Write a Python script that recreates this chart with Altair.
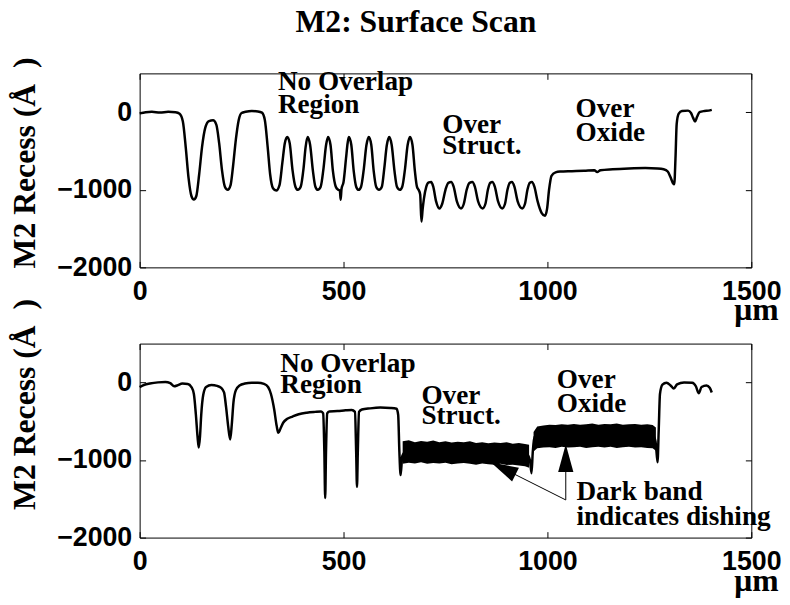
import math
import altair as alt
import pandas as pd

# ---------------- data ----------------
X_TICKS = [0, 500, 1000, 1500]
Y_TICKS = [-2000, -1000, 0]

top_x = [0, 15, 30, 50, 70, 88, 98, 106, 113, 120, 127, 133, 139, 146, 153, 161, 170, 180, 188, 195,
         202, 209, 216, 223, 229, 236, 243, 250, 260, 275, 290, 300, 307, 314, 320, 327, 335, 343, 350, 356,
         362, 368, 375, 382, 388, 395, 402, 407, 412, 418, 425, 431, 437, 444, 451, 457, 462, 468, 474, 481,
         487, 491, 493, 495, 500, 506, 510, 513, 519, 525, 531, 537, 543, 550, 556, 562, 568, 574, 580, 587,
         594, 600, 606, 612, 618, 625, 631, 638, 644, 651, 657, 663, 669, 675, 680, 684, 688, 691, 694, 697,
         703, 709, 715, 720, 727, 735, 742, 750, 757, 764, 770, 778, 788, 795, 802, 809, 816, 822, 830, 841,
         848, 854, 860, 865, 871, 879, 889, 896, 902, 908, 913, 919, 927, 938, 945, 951, 957, 962, 968, 976,
         986, 994, 999, 1004, 1010, 1020, 1031, 1060, 1090, 1115, 1122, 1130, 1160, 1200, 1240, 1270, 1285, 1295, 1302, 1308,
         1311, 1314, 1317, 1322, 1330, 1345, 1352, 1357, 1362, 1367, 1373, 1385, 1395, 1403]
top_y = [-15, 0, 5, -5, 5, 0, -20, -120, -450, -850, -1080, -1125, -1080, -800, -450, -200, -115, -105, -160, -400,
         -750, -960, -1000, -940, -700, -350, -100, -10, 5, 15, 10, -5, -100, -450, -800, -980, -1010, -940, -650, -400,
         -320, -400, -750, -960, -1000, -960, -720, -450, -320, -420, -760, -960, -1000, -960, -720, -430, -320, -420, -760, -960,
         -1000, -1010, -1130, -990, -900, -600, -400, -320, -420, -760, -960, -1000, -960, -720, -430, -320, -420, -760, -960, -1000,
         -960, -720, -430, -320, -420, -760, -960, -1000, -960, -720, -430, -320, -420, -760, -960, -1000, -1060, -1410, -1250, -1120,
         -960, -905, -900, -960, -1150, -1240, -1180, -1000, -910, -900, -960, -1150, -1240, -1180, -1000, -910, -900, -960, -1150, -1240,
         -1180, -1000, -910, -900, -960, -1150, -1240, -1180, -1000, -910, -900, -960, -1150, -1240, -1180, -1000, -910, -900, -960, -1150,
         -1300, -1335, -1250, -1000, -820, -775, -765, -760, -755, -748, -772, -748, -735, -725, -720, -725, -735, -765, -840, -915,
         -930, -600, -150, -20, 15, 20, -10, -70, -120, -60, 0, 15, 20, 30]

bot_x = [0, 12, 25, 45, 63, 75, 85, 92, 105, 118, 127, 133, 138, 142, 145, 148, 151, 156, 163, 176,
         190, 200, 207, 212, 217, 222, 226, 230, 236, 245, 258, 275, 290, 305, 315, 322, 330, 336, 340, 345,
         352, 362, 375, 390, 410, 430, 445, 450, 453, 455, 457, 460, 465, 485, 505, 520, 528, 531, 533, 535,
         538, 545, 565, 590, 615, 630, 634, 637, 640, 644, 650, 700, 800, 900, 950, 957, 961, 964, 968, 1000,
         1100, 1200, 1262, 1266, 1270, 1273, 1276, 1282, 1292, 1302, 1310, 1318, 1335, 1355, 1364, 1371, 1378, 1390, 1398, 1403]
bot_y = [-60, -30, -15, 0, 5, -10, -50, -40, -15, -20, -60, -150, -420, -700, -840, -700, -420, -160, -60, -35,
         -45, -70, -130, -320, -560, -735, -540, -260, -100, -40, -15, -5, -5, -20, -60, -150, -350, -560, -650, -600,
         -520, -470, -440, -410, -390, -380, -375, -400, -900, -1490, -900, -400, -375, -370, -360, -355, -380, -900, -1345, -900,
         -380, -350, -335, -325, -330, -340, -420, -900, -1195, -950, -905, -905, -910, -920, -930, -1000, -1170, -900, -700, -690,
         -685, -690, -705, -800, -1030, -600, -150, -30, -5, -40, -80, -25, 0, -5, -50, -140, -60, -40, -70, -130]

# envelopes of the dark (dishing) bands in the lower scan
band1_x = [645, 660, 675, 690, 705, 720, 735, 750, 765, 780, 795, 810, 825, 840, 855, 870, 885, 900, 915, 930, 945, 955]
band1_top = [-760, -745, -770, -755, -765, -750, -770, -760, -775, -765, -770, -760, -780, -770, -785, -775, -780, -770, -790, -780, -795, -805]
band1_bot = [-1050, -1035, -1045, -1030, -1050, -1040, -1045, -1035, -1055, -1045, -1040, -1050, -1060, -1045, -1055, -1060, -1050, -1065, -1060, -1070, -1080, -1100]
band2_x = [966, 975, 990, 1005, 1020, 1035, 1050, 1065, 1080, 1095, 1110, 1125, 1140, 1155, 1170, 1185, 1200, 1215, 1230, 1245, 1258, 1266]
band2_top = [-640, -570, -555, -545, -550, -540, -545, -535, -545, -540, -530, -545, -535, -540, -530, -545, -540, -535, -545, -540, -550, -580]
band2_bot = [-890, -850, -840, -835, -845, -830, -840, -835, -830, -845, -835, -830, -840, -830, -845, -835, -830, -840, -835, -845, -850, -880]

top_note_text = ["No Overlap", "Region", "Over", "Struct.", "Over", "Oxide"]
top_note_x = [339, 339, 742, 742, 1069, 1069]
top_note_y = [287, -16, -270, -536, -67, -376]

bot_note_text = ["No Overlap", "Region", "Over", "Struct.", "Over", "Oxide", "Dark band", "indicates dishing"]
bot_note_x = [345, 345, 691, 691, 1023, 1023, 1071, 1071]
bot_note_y = [130, -143, -278, -536, -67, -376, -1515, -1832]

arrow_from_x = [1045, 1045]
arrow_from_y = [-1515, -1515]
arrow_to_x = [861, 1045]
arrow_to_y = [-1029, -797]

assert len(top_x) == len(top_y)
assert len(bot_x) == len(bot_y)

# ---------------- chart ----------------
W, H = 618, 196
XDOM = [0, 1500]
YDOM = [-2000, 500]
SERIF = "Liberation Serif"
SANS = "Liberation Sans"
NB = "\u00a0"


def xs(axis, field="x"):
    return alt.X(f"{field}:Q", scale=alt.Scale(domain=XDOM, nice=False, zero=False), axis=axis)


def ys(axis, field="y"):
    return alt.Y(f"{field}:Q", scale=alt.Scale(domain=YDOM, nice=False, zero=False), axis=axis)


def main_x():
    return alt.Axis(orient="bottom", values=X_TICKS, ticks=False, domain=False, grid=False, offset=0,
                    format="d", labelFlush=False, labelOverlap=False, labelPadding=11,
                    labelFont=SANS, labelFontSize=27, labelFontWeight="bold", labelColor="black",
                    title="μm", titleFont=SERIF, titleFontSize=32, titleFontWeight="bold",
                    titleColor="black", titleAlign="right", titleBaseline="alphabetic",
                    titleX=W + 27, titleY=53)


def main_y(title_y):
    return alt.Axis(orient="left", values=Y_TICKS, ticks=False, domain=False, grid=False, offset=0,
                    format="d", labelFlush=False, labelOverlap=False, labelPadding=8,
                    labelFont=SANS, labelFontSize=27, labelFontWeight="bold", labelColor="black",
                    title="M2 Recess (Å" + NB * 2 + ")", titleFont=SERIF, titleFontSize=32,
                    titleFontWeight="bold", titleColor="black", titlePadding=15, titleY=title_y)


def tick_axis(orient, values):
    return alt.Axis(orient=orient, values=values, labels=False, domain=False, grid=False,
                    ticks=True, tickSize=6, tickColor="black", tickWidth=1, offset=-6, title=None)


def panel(cx, cy, nx, ny, nt, title_y, bands, arrows):
    curve = pd.DataFrame({"x": cx, "y": cy})
    layers = []
    layers.append(
        alt.Chart(curve).mark_line(color="black", strokeWidth=2.5, interpolate="monotone")
        .encode(x=xs(main_x()), y=ys(main_y(title_y)))
    )
    layers.append(
        alt.Chart(curve).mark_line(strokeOpacity=0)
        .encode(x=xs(tick_axis("bottom", X_TICKS)), y=ys(tick_axis("left", Y_TICKS)))
    )
    layers.append(
        alt.Chart(curve).mark_line(strokeOpacity=0)
        .encode(x=xs(tick_axis("top", X_TICKS)), y=ys(tick_axis("right", Y_TICKS)))
    )
    for bx, bt, bb in bands:
        bdf = pd.DataFrame({"x": bx, "top": bt, "bot": bb})
        layers.append(
            alt.Chart(bdf).mark_area(color="black", interpolate="linear", opacity=1)
            .encode(x=xs(None), y=ys(None, "top"), y2="bot:Q")
        )
    if arrows:
        fx, fy, tx, ty = arrows
        adf = pd.DataFrame({"x": fx, "y": fy, "x2": tx, "y2": ty})
        layers.append(
            alt.Chart(adf).mark_rule(color="black", strokeWidth=1)
            .encode(x=xs(None), y=ys(None), x2="x2:Q", y2="y2:Q")
        )
        px_x = W / (XDOM[1] - XDOM[0])
        px_y = H / (YDOM[1] - YDOM[0])
        angles = [math.degrees(math.atan2((b - a) * px_x, (d - c) * px_y)) % 360
                  for a, b, c, d in zip(fx, tx, fy, ty)]
        hdf = pd.DataFrame({"x": tx, "y": ty, "angle": angles})
        layers.append(
            alt.Chart(hdf).mark_point(shape="M0,0L0.55,2L-0.55,2Z", filled=True, color="black",
                                      size=784, opacity=1, strokeWidth=0)
            .encode(x=xs(None), y=ys(None), angle=alt.Angle("angle:Q", scale=None))
        )
    notes = pd.DataFrame({"x": nx, "y": ny, "text": nt})
    layers.append(
        alt.Chart(notes).mark_text(align="left", baseline="alphabetic", font=SERIF, fontSize=27.5,
                                   fontWeight="bold", color="black")
        .encode(x=xs(None), y=ys(None), text="text:N")
    )
    return (alt.layer(*layers)
            .resolve_axis(x="independent", y="independent")
            .properties(width=W, height=H))


top = panel(top_x, top_y, top_note_x, top_note_y, top_note_text, 90, [], None)
bottom = panel(bot_x, bot_y, bot_note_x, bot_note_y, bot_note_text, 61,
               [(band1_x, band1_top, band1_bot), (band2_x, band2_top, band2_bot)],
               (arrow_from_x, arrow_from_y, arrow_to_x, arrow_to_y))

chart = (
    alt.vconcat(top, bottom, spacing=77)
    .properties(
        bounds="flush",
        padding={"top": -6, "left": 0, "right": 0, "bottom": 0},
        title=alt.TitleParams("M2: Surface Scan", font=SERIF, fontSize=32, fontWeight="bold",
                              color="black", anchor="middle", offset=18, dx=21),
    )
    .configure_view(stroke="black", strokeWidth=1)
)

chart.save("out.html", embed_options={"renderer": "svg", "actions": False})
